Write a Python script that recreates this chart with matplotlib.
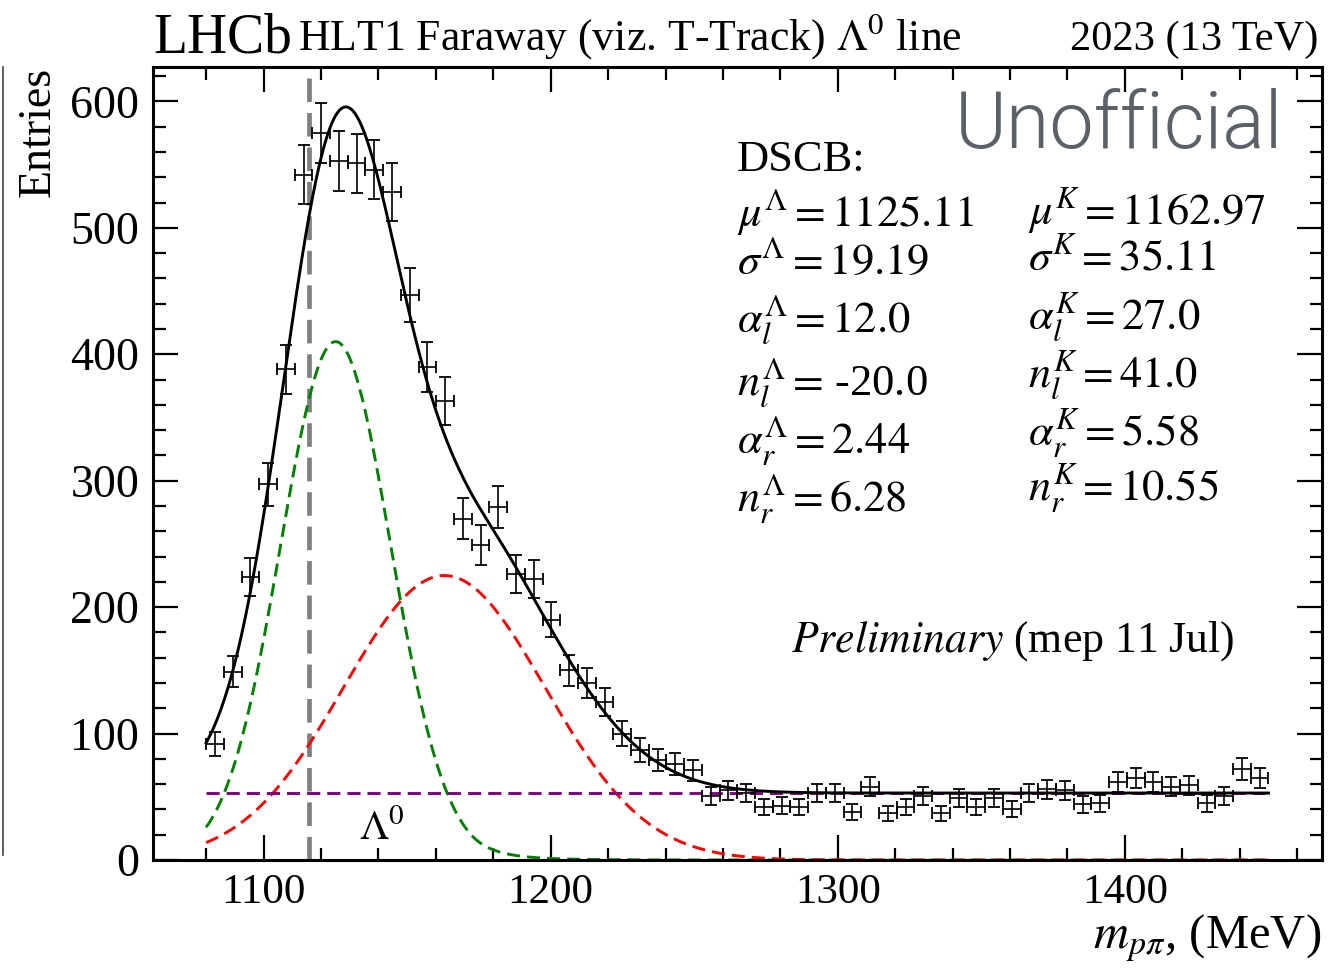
import numpy as np
import matplotlib
matplotlib.use("Agg")
import matplotlib.pyplot as plt
from matplotlib.lines import Line2D

plt.rcParams['font.family'] = ['Liberation Serif', 'DejaVu Serif']
plt.rcParams['mathtext.fontset'] = 'stix'

# histogram: 60 bins between 1080 and 1450 MeV
bin_lo, bin_hi, n_bins = 1080.0, 1450.0, 60
counts = [92, 149, 224, 297, 388, 542, 575, 553, 551, 546,
          528, 447, 390, 363, 270, 249, 279, 226, 222, 190,
          150, 140, 125, 100, 87, 79, 76, 71, 51, 55,
          53, 42, 43, 42, 53, 53, 38, 58, 37, 42,
          51, 37, 49, 42, 49, 40, 53, 56, 55, 44,
          45, 62, 65, 62, 58, 59, 45, 51, 72, 65]

# fit results (DSCB shapes as printed on the plot)
lam_pars = dict(mu=1125.11, sigma=19.19, al=12.0, nl=-20.0, ar=2.44, nr=6.28)
k_pars = dict(mu=1162.97, sigma=35.11, al=27.0, nl=41.0, ar=5.58, nr=10.55)
lam_peak = 410.0
k_peak = 225.0
bkg_level = 53.0
lambda_mass = 1115.68

lam_labels = [r"$\mu^{\Lambda} = 1125.11$", r"$\sigma^{\Lambda} = 19.19$",
              r"$\alpha_l^{\Lambda} = 12.0$", r"$n_l^{\Lambda} =\,$-20.0",
              r"$\alpha_r^{\Lambda} = 2.44$", r"$n_r^{\Lambda} = 6.28$"]
k_labels = [r"$\mu^{K} = 1162.97$", r"$\sigma^{K} = 35.11$",
            r"$\alpha_l^{K} = 27.0$", r"$n_l^{K} = 41.0$",
            r"$\alpha_r^{K} = 5.58$", r"$n_r^{K} = 10.55$"]


def dscb(x, mu, sigma, al, nl, ar, nr):
    z = (x - mu) / sigma
    out = np.exp(-0.5 * z ** 2)
    left = z < -al
    right = z > ar
    if left.any():
        a = (nl / al) ** nl * np.exp(-0.5 * al ** 2)
        b = nl / al - al
        out[left] = a * (b - z[left]) ** (-nl)
    if right.any():
        a = (nr / ar) ** nr * np.exp(-0.5 * ar ** 2)
        b = nr / ar - ar
        out[right] = a * (b + z[right]) ** (-nr)
    return out


edges = np.linspace(bin_lo, bin_hi, n_bins + 1)
centers = 0.5 * (edges[1:] + edges[:-1])
half_w = 0.5 * (edges[1] - edges[0])
y = np.array(counts, dtype=float)

xs = np.linspace(bin_lo, bin_hi, 600)
lam_curve = lam_peak * dscb(xs, **lam_pars)
k_curve = k_peak * dscb(xs, **k_pars)
bkg_curve = np.full_like(xs, bkg_level)
total = lam_curve + k_curve + bkg_curve

fig = plt.figure(figsize=(13.34, 9.74), dpi=100)
ax = fig.add_axes([0.1147, 0.117, 0.876, 0.814])

ax.axvline(lambda_mass, color='#808080', lw=3.4, ls=(0, (5, 2.3)), zorder=1)
ax.plot(xs, lam_curve, color='green', lw=2.1, ls=(0, (4.5, 2.4)), zorder=2)
ax.plot(xs, k_curve, color='red', lw=2.1, ls=(0, (4.5, 2.4)), zorder=2)
ax.plot(xs, bkg_curve, color='purple', lw=2.1, ls=(0, (4.5, 2.4)), zorder=2)
ax.plot(xs, total, color='black', lw=2.1, zorder=3)
ax.errorbar(centers, y, xerr=half_w, yerr=np.sqrt(y), fmt='none',
            ecolor='black', elinewidth=1.2, capsize=4, capthick=1.3, zorder=4)

ax.set_xlim(1061.5, 1468.5)
ax.set_ylim(0, 627)
ax.set_xticks([1100, 1200, 1300, 1400])
ax.set_xticks(np.arange(1080, 1461, 20), minor=True)
ax.set_yticks(np.arange(0, 601, 100))
ax.set_yticks(np.arange(0, 621, 20), minor=True)
ax.tick_params(which='both', direction='in', top=True, right=True, width=1.6)
ax.tick_params(axis='x', labelsize=31)
ax.tick_params(axis='y', labelsize=33)
ax.tick_params(which='major', length=18, pad=10)
ax.tick_params(which='minor', length=9)
for s in ax.spines.values():
    s.set_linewidth(2.2)

ax.set_xlabel(r"$m_{p\pi}$, (MeV)", fontsize=35, loc='right', labelpad=0)
fig.text(0.029, 0.931, "Entries", rotation=90, ha='center', va='top', fontsize=33)

# header
ax.text(0.0, 1.018, "LHCb", transform=ax.transAxes, fontsize=40, va='baseline')
ax.text(0.124, 1.022, r"HLT1 Faraway (viz. T-Track) $\Lambda^0$ line",
        transform=ax.transAxes, fontsize=31.5, va='baseline')
ax.text(0.997, 1.022, "2023 (13 TeV)", transform=ax.transAxes, fontsize=30.5,
        va='baseline', ha='right')

ax.text(0.967, 0.898, "Unofficial", transform=ax.transAxes, fontsize=57,
        family='Roboto', fontweight=300, color='#5c6168', ha='right', va='baseline')

ax.text(0.4996, 0.883, "DSCB:", transform=ax.transAxes, fontsize=32, va='center')
left_y = [0.817, 0.754, 0.681, 0.6015, 0.5296, 0.4565]
right_y = [0.8197, 0.759, 0.685, 0.6116, 0.5397, 0.470]
for lab, yy in zip(lam_labels, left_y):
    ax.text(0.4996, yy, lab, transform=ax.transAxes, fontsize=32, va='center')
for lab, yy in zip(k_labels, right_y):
    ax.text(0.7485, yy, lab, transform=ax.transAxes, fontsize=32, va='center')

ax.text(0.9256, 0.276, r"$\mathit{Preliminary}$ (mep 11 Jul)", transform=ax.transAxes,
        fontsize=31.5, ha='right', va='center')
ax.text(0.196, 0.038, r"$\Lambda^0$", transform=ax.transAxes, fontsize=30,
        ha='center', va='center')

# edge of a neighbouring frame, cut off at the left border
fig.add_artist(Line2D([0.0025, 0.0025], [0.122, 0.931], color='#444444', lw=1.2))

fig.savefig("out.png", dpi=100)
